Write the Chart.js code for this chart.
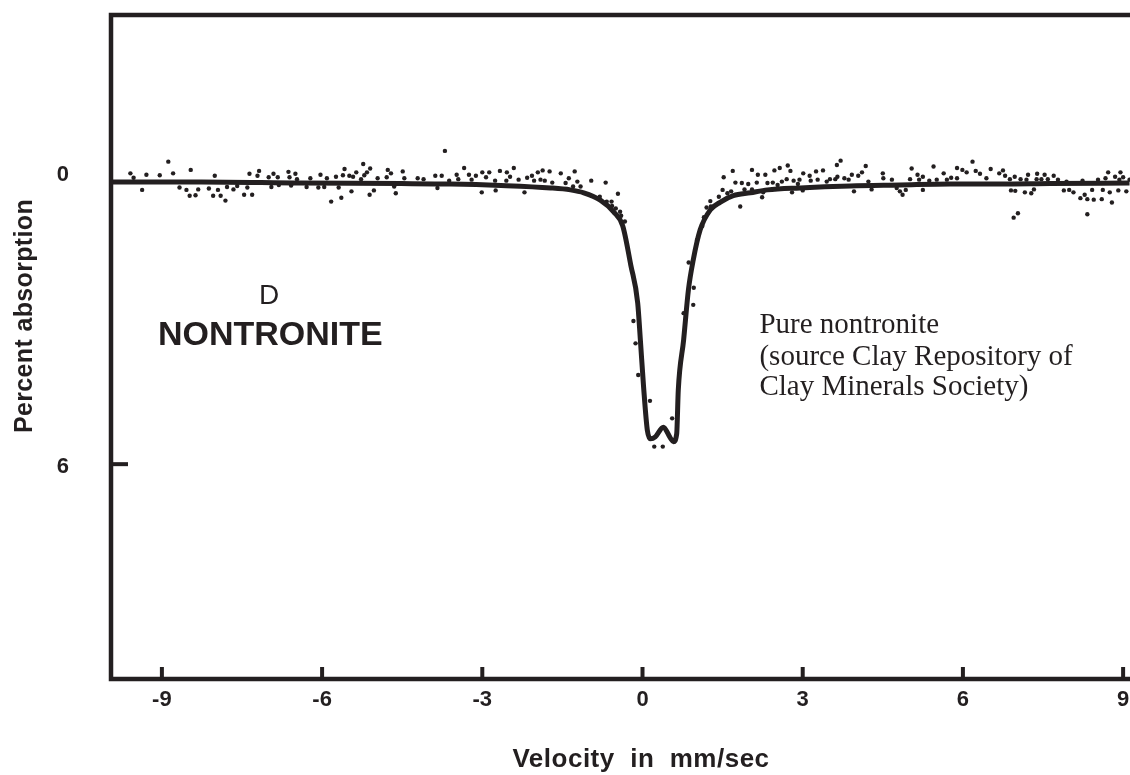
<!DOCTYPE html>
<html><head><meta charset="utf-8">
<style>html,body{margin:0;padding:0;background:#fff;}#wrap{width:1130px;height:775px;position:relative;}</style>
<script src="https://cdn.jsdelivr.net/npm/chart.js@4.4.1/dist/chart.umd.min.js"></script>
</head><body><div id="wrap"><canvas id="c" width="1130" height="775"></canvas></div>
<script>
const xTicks = [-9, -6, -3, 0, 3, 6, 9];
const yTickLabels = [0, 6];
const yTickMarks = [6];
const xTitle = 'Velocity  in  mm/sec';
const yTitle = 'Percent absorption';
const panelLetter = 'D';
const panelName = 'NONTRONITE';
const noteLines = ['Pure nontronite', '(source Clay Repository of', 'Clay Minerals Society)'];

const curveVelocity = [-9.93,-8.26,-6.39,-4.52,-3.59,-2.65,-1.72,-1.35,-1.10,-0.79,-0.54,-0.37,-0.22,-0.09,-0.04,0.02,0.09,0.15,0.24,0.39,0.52,0.58,0.64,0.67,0.77,0.86,0.95,1.08,1.27,1.46,1.70,2.02,2.34,2.95,3.89,4.82,5.76,6.69,7.63,9.12];
const curveAbsorption = [0.21,0.21,0.23,0.24,0.25,0.28,0.33,0.37,0.43,0.58,0.82,1.11,1.91,2.69,3.45,4.41,5.30,5.48,5.44,5.24,5.46,5.54,5.38,4.48,3.45,2.42,1.81,1.19,0.78,0.62,0.49,0.43,0.37,0.33,0.29,0.27,0.25,0.25,0.24,0.23];

const pointVelocity = [
-9.59,-9.53,-9.37,-9.29,-9.04,-8.88,-8.79,-8.67,-8.54,-8.48,-8.46,-8.37,-8.32,-8.12,-8.04,-8.01,-7.95,-7.90,-7.81,-7.78,
-7.66,-7.59,-7.46,-7.40,-7.36,-7.31,-7.21,-7.18,-7.00,-6.95,-6.91,-6.83,-6.81,-6.63,-6.61,-6.58,-6.50,-6.47,-6.29,-6.22,
-6.07,-6.03,-5.96,-5.91,-5.83,-5.74,-5.69,-5.64,-5.61,-5.58,-5.49,-5.45,-5.42,-5.36,-5.27,-5.23,-5.21,-5.16,-5.10,-5.11,
-5.03,-4.96,-4.77,-4.79,-4.71,-4.65,-4.62,-4.49,-4.46,-4.21,-4.10,-3.88,-3.84,-3.76,-3.70,-3.62,-3.48,-3.45,-3.34,-3.25,
-3.20,-3.12,-3.00,-3.01,-2.93,-2.87,-2.75,-2.76,-2.67,-2.54,-2.55,-2.48,-2.41,-2.32,-2.21,-2.16,-2.07,-2.03,-1.96,-1.87,
-1.91,-1.83,-1.74,-1.69,-1.53,-1.44,-1.38,-1.30,-1.27,-1.22,-1.16,-0.96,-0.80,-0.69,-0.67,-0.58,-0.57,-0.50,-0.46,-0.42,
-0.40,-0.33,-0.17,-0.13,-0.08,0.14,0.22,0.38,0.555,0.77,0.865,0.96,0.95,1.02,1.12,1.15,1.20,1.27,1.28,1.43,
1.50,1.52,1.59,1.66,1.69,1.74,1.83,1.86,1.91,1.98,2.05,2.05,2.14,2.16,2.24,2.26,2.30,2.34,2.44,2.47,
2.53,2.57,2.61,2.72,2.77,2.70,2.80,2.83,2.91,2.94,3.01,3.00,3.13,3.15,3.25,3.28,3.38,3.45,3.51,3.61,
3.64,3.65,3.71,3.78,3.86,3.92,3.96,4.04,4.11,4.18,4.23,4.29,4.50,4.51,4.67,4.76,4.82,4.87,4.93,5.04,
5.01,5.15,5.18,5.25,5.25,5.37,5.45,5.51,5.64,5.70,5.78,5.89,5.89,5.99,6.07,6.18,6.24,6.32,6.44,6.52,
6.68,6.75,6.79,6.88,6.90,6.97,6.98,6.95,7.03,7.08,7.16,7.19,7.22,7.28,7.33,7.38,7.39,7.47,7.53,7.59,
7.70,7.78,7.89,7.94,7.99,8.07,8.20,8.24,8.28,8.33,8.33,8.42,8.45,8.53,8.60,8.62,8.67,8.72,8.75,8.79,
8.85,8.91,8.93,8.95,9.00,9.06,9.12];
const pointAbsorption = [
0.03,0.12,0.37,0.06,0.07,-0.21,0.03,0.32,0.37,0.49,-0.04,0.48,0.36,0.34,0.49,0.08,0.37,0.49,0.59,0.31,
0.36,0.29,0.47,0.32,0.04,0.47,0.08,-0.02,0.11,0.31,0.04,0.11,0.27,0.00,0.11,0.28,0.04,0.15,0.31,0.13,
0.32,0.06,0.31,0.13,0.61,0.10,0.32,0.53,0.07,-0.06,0.08,0.40,0.10,0.01,0.15,-0.16,0.07,0.01,-0.07,0.47,
0.38,0.13,-0.04,0.11,0.03,0.30,0.44,-0.01,0.13,0.13,0.15,0.08,0.33,0.08,-0.43,0.18,0.06,0.15,-0.08,0.06,
0.16,0.08,0.01,0.42,0.11,0.01,0.38,0.18,-0.02,0.01,0.18,0.10,-0.08,0.16,0.42,0.12,0.08,0.18,0.01,-0.03,
0.16,0.18,-0.01,0.22,0.03,0.23,0.13,0.30,-0.01,0.20,0.30,0.18,0.51,0.22,0.61,0.61,0.70,0.75,0.45,0.82,
0.90,1.02,3.06,3.52,4.17,4.70,5.64,5.64,5.06,2.90,1.86,2.38,2.73,1.40,1.11,0.93,0.73,0.60,0.71,0.51,
0.37,0.11,0.44,0.40,-0.02,0.22,0.71,0.23,0.36,0.25,-0.04,0.36,0.22,0.06,0.52,0.42,0.06,0.23,0.22,-0.03,
0.27,-0.08,0.20,-0.13,-0.02,0.15,0.42,0.18,0.25,0.16,0.03,0.38,0.08,0.18,-0.01,0.16,-0.03,0.20,0.15,0.15,
-0.14,0.10,-0.23,0.13,0.16,0.06,0.40,0.08,0.01,-0.12,0.20,0.36,0.03,0.13,0.16,0.33,0.40,0.47,0.37,-0.07,
0.15,0.06,0.16,0.10,0.37,0.18,-0.11,0.16,0.03,0.16,0.12,-0.08,0.13,-0.04,0.01,-0.21,-0.02,0.04,0.13,-0.06,
0.03,-0.03,0.08,0.15,0.38,0.10,0.39,0.94,0.85,0.15,0.42,0.16,0.06,0.44,0.36,0.15,0.04,0.15,0.06,0.15,
0.08,0.16,0.38,0.20,0.37,0.42,0.54,0.18,0.47,0.56,0.87,0.37,0.57,0.16,0.56,0.37,0.13,0.01,0.42,0.63,
0.10,0.38,0.16,0.01,0.11,0.40,0.16];

const INK = '#231f20';
const SANS = '"Liberation Sans", Arial, sans-serif';
const SERIF = '"Liberation Serif", "Times New Roman", serif';

const decor = {
  id: 'decor',
  afterDatasetsDraw(chart) {
    const {ctx, chartArea: a, scales: {x, y}} = chart;
    ctx.save();
    ctx.strokeStyle = INK; ctx.fillStyle = INK; ctx.lineCap = 'butt';
    ctx.lineWidth = 4.5;
    ctx.beginPath();
    ctx.moveTo(chart.width, a.top); ctx.lineTo(a.left, a.top); ctx.lineTo(a.left, a.bottom); ctx.lineTo(chart.width, a.bottom);
    ctx.stroke();
    ctx.lineWidth = 4;
    xTicks.forEach(v => { const px = x.getPixelForValue(v); ctx.beginPath(); ctx.moveTo(px, a.bottom - 12); ctx.lineTo(px, a.bottom); ctx.stroke(); });
    yTickMarks.forEach(v => { const py = y.getPixelForValue(v); ctx.beginPath(); ctx.moveTo(a.left, py); ctx.lineTo(a.left + 17, py); ctx.stroke(); });
    ctx.textBaseline = 'middle';
    ctx.textAlign = 'center';
    ctx.font = '28px ' + SANS;
    ctx.fillText(panelLetter, x.getPixelForValue(-6.99), y.getPixelForValue(2.56));
    ctx.font = 'bold 34px ' + SANS;
    ctx.fillText(panelName, x.getPixelForValue(-6.97), y.getPixelForValue(3.37));
    ctx.textAlign = 'left';
    ctx.font = '29px ' + SERIF;
    const nx = x.getPixelForValue(2.19);
    [3.16, 3.80, 4.43].forEach((v, i) => ctx.fillText(noteLines[i], nx, y.getPixelForValue(v)));
    ctx.textAlign = 'center';
    ctx.font = 'bold 26px ' + SANS;
    ctx.letterSpacing = '0.5px';
    ctx.fillText(xTitle, 641, 760);
    ctx.save();
    ctx.font = 'bold 25px ' + SANS;
    ctx.letterSpacing = '0.35px';
    ctx.translate(25, 316); ctx.rotate(-Math.PI / 2);
    ctx.fillText(yTitle, 0, 0);
    ctx.restore();
    ctx.restore();
  }
};

new Chart(document.getElementById('c'), {
  type: 'scatter',
  data: {
    datasets: [
      { data: pointVelocity.map((v, i) => ({x: v, y: pointAbsorption[i]})), pointRadius: 2.2, pointBackgroundColor: INK, pointBorderWidth: 0, showLine: false, clip: false, order: 2 },
      { data: curveVelocity.map((v, i) => ({x: v, y: curveAbsorption[i]})), showLine: true, pointRadius: 0, borderColor: INK, borderWidth: 5, cubicInterpolationMode: 'monotone', fill: false, clip: false, order: 1 }
    ]
  },
  options: {
    responsive: false, animation: false, devicePixelRatio: 1,
    layout: { padding: { top: 15, left: 0, right: 0, bottom: 0 } },
    plugins: { legend: { display: false }, tooltip: { enabled: false } },
    scales: {
      x: {
        type: 'linear', min: -9.953, max: 9.054,
        afterBuildTicks: s => { s.ticks = xTicks.map(v => ({value: v})); },
        afterFit: s => { s.height = 96; s.paddingLeft = 0; s.paddingRight = 0; },
        grid: { display: false, drawTicks: false }, border: { display: false },
        ticks: { color: INK, font: { family: SANS, size: 22, weight: 'bold' }, padding: 8, maxRotation: 0, autoSkip: false }
      },
      y: {
        type: 'linear', reverse: true, min: -3.22, max: 10.41,
        afterBuildTicks: s => { s.ticks = yTickLabels.map(v => ({value: v})); },
        afterFit: s => { s.width = 111; s.paddingTop = 0; s.paddingBottom = 0; },
        grid: { display: false, drawTicks: false }, border: { display: false },
        ticks: { color: INK, font: { family: SANS, size: 22, weight: 'bold' }, padding: 42, labelOffset: 3 }
      }
    }
  },
  plugins: [decor]
});
</script></body></html>
